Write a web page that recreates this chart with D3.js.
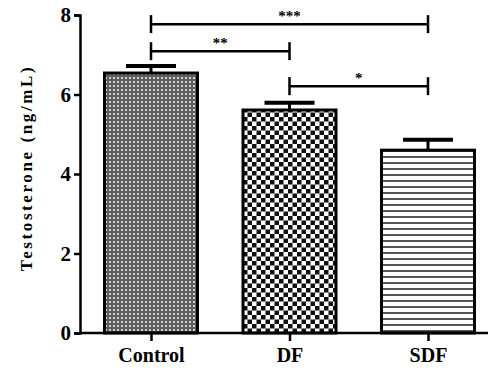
<!DOCTYPE html>
<html>
<head>
<meta charset="utf-8">
<script src="https://cdn.jsdelivr.net/npm/d3@7"></script>
<style>
  body { margin: 0; background: #fff; }
  svg { display: block; }
  text { font-family: "Liberation Serif", "Times New Roman", serif; font-weight: bold; }
</style>
</head>
<body>
<div id="chart"></div>
<script>
const groups = ['Control', 'DF', 'SDF'];
const means = [6.54, 5.61, 4.60];
const sems = [0.18, 0.18, 0.26];
const yTicks = [0, 2, 4, 6, 8];
const pairs = [[0, 2], [0, 1], [1, 2]];
const pairY = [7.77, 7.09, 6.21];
const pairLabels = ['***', '**', '*'];

const w = 490, h = 373;
const barW = 93;

const svg = d3.select('#chart').append('svg')
  .attr('width', w)
  .attr('height', h);

const defs = svg.append('defs');

// fine dotted grey for Control
const p1 = defs.append('pattern').attr('id', 'dots')
  .attr('patternUnits', 'userSpaceOnUse').attr('width', 4).attr('height', 4);
p1.append('rect').attr('width', 4).attr('height', 4).attr('fill', '#5e5e5e');
p1.append('rect').attr('x', 1).attr('y', 1).attr('width', 2).attr('height', 2).attr('fill', '#d0d0d0');

// checkerboard for DF
const p2 = defs.append('pattern').attr('id', 'checks')
  .attr('patternUnits', 'userSpaceOnUse').attr('width', 9).attr('height', 9);
p2.append('rect').attr('width', 9).attr('height', 9).attr('fill', '#fff');
p2.append('rect').attr('width', 4.5).attr('height', 4.5).attr('fill', '#111');
p2.append('rect').attr('x', 4.5).attr('y', 4.5).attr('width', 4.5).attr('height', 4.5).attr('fill', '#111');

// horizontal lines for SDF
const p3 = defs.append('pattern').attr('id', 'hlines')
  .attr('patternUnits', 'userSpaceOnUse').attr('width', 6).attr('height', 6);
p3.append('rect').attr('width', 6).attr('height', 6).attr('fill', '#fff');
p3.append('rect').attr('y', 0).attr('width', 6).attr('height', 2).attr('fill', '#555');

const fills = ['url(#dots)', 'url(#checks)', 'url(#hlines)'];

const y = d3.scaleLinear().domain([0, 8]).range([333, 15]);
const x = d3.scalePoint().domain(groups).range([151, 428]);

// bars
svg.selectAll('.bar')
  .data(groups)
  .enter()
  .append('rect')
  .attr('class', 'bar')
  .attr('x', d => x(d) - barW / 2)
  .attr('y', (d, i) => y(means[i]))
  .attr('width', barW)
  .attr('height', (d, i) => y(0) - y(means[i]))
  .attr('fill', (d, i) => fills[i])
  .attr('stroke', '#000')
  .attr('stroke-width', 3);

// error bars (upper only)
svg.selectAll('.err')
  .data(groups)
  .enter()
  .append('line')
  .attr('x1', d => x(d)).attr('x2', d => x(d))
  .attr('y1', (d, i) => y(means[i]))
  .attr('y2', (d, i) => y(means[i] + sems[i]))
  .attr('stroke', '#000').attr('stroke-width', 3);

svg.selectAll('.cap')
  .data(groups)
  .enter()
  .append('line')
  .attr('x1', d => x(d) - 25).attr('x2', d => x(d) + 25)
  .attr('y1', (d, i) => y(means[i] + sems[i]))
  .attr('y2', (d, i) => y(means[i] + sems[i]))
  .attr('stroke', '#000').attr('stroke-width', 4);

// axes
const yAxis = d3.axisLeft(y).tickValues(yTicks).tickSize(6).tickPadding(3);
svg.append('g')
  .attr('transform', 'translate(80,0)')
  .call(yAxis)
  .call(g => g.select('.domain').attr('stroke-width', 2.5))
  .call(g => g.selectAll('.tick line').attr('stroke-width', 2.5))
  .call(g => g.selectAll('.tick text')
    .style('font-family', '"Liberation Serif", serif')
    .style('font-weight', 'bold')
    .style('font-size', '21px')
    .attr('fill', '#000'));

const xAxis = d3.axisBottom(x).tickSize(8).tickSizeOuter(0).tickPadding(7);
svg.append('g')
  .attr('transform', 'translate(0,333)')
  .call(xAxis)
  .call(g => g.select('.domain').attr('d', 'M80,0H488').attr('stroke-width', 2.5))
  .call(g => g.selectAll('.tick line').attr('stroke-width', 2.5))
  .call(g => g.selectAll('.tick text')
    .style('font-family', '"Liberation Serif", serif')
    .style('font-weight', 'bold')
    .style('font-size', '20px')
    .attr('fill', '#000'));

// y label
svg.append('text')
  .attr('transform', 'translate(32,168) rotate(-90)')
  .attr('text-anchor', 'middle')
  .style('font-size', '17px')
  .style('letter-spacing', '2.6px')
  .text('Testosterone (ng/mL)');

// significance brackets
const br = svg.selectAll('.bracket')
  .data(pairs)
  .enter()
  .append('g');

br.append('line')
  .attr('x1', d => x(groups[d[0]])).attr('x2', d => x(groups[d[1]]))
  .attr('y1', (d, i) => y(pairY[i])).attr('y2', (d, i) => y(pairY[i]))
  .attr('stroke', '#000').attr('stroke-width', 2.5);

br.append('line')
  .attr('x1', d => x(groups[d[0]])).attr('x2', d => x(groups[d[0]]))
  .attr('y1', (d, i) => y(pairY[i]) - 9).attr('y2', (d, i) => y(pairY[i]) + 9)
  .attr('stroke', '#000').attr('stroke-width', 2.5);

br.append('line')
  .attr('x1', d => x(groups[d[1]])).attr('x2', d => x(groups[d[1]]))
  .attr('y1', (d, i) => y(pairY[i]) - 9).attr('y2', (d, i) => y(pairY[i]) + 9)
  .attr('stroke', '#000').attr('stroke-width', 2.5);

br.append('text')
  .attr('x', d => (x(groups[d[0]]) + x(groups[d[1]])) / 2)
  .attr('y', (d, i) => y(pairY[i]) - 3)
  .attr('text-anchor', 'middle')
  .style('font-size', '15px')
  .text((d, i) => pairLabels[i]);
</script>
</body>
</html>
